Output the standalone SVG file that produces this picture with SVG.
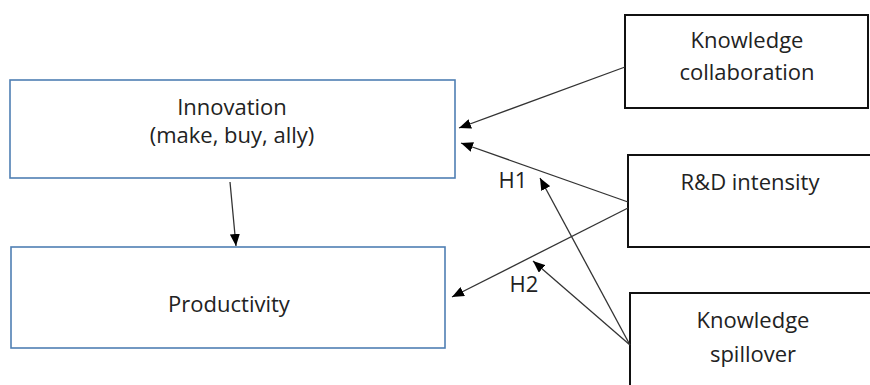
<svg xmlns="http://www.w3.org/2000/svg" width="870" height="385" viewBox="0 0 870 385">
<defs>
<marker id="ah" viewBox="0 0 12 10" refX="12" refY="5" markerWidth="12" markerHeight="10" markerUnits="userSpaceOnUse" orient="auto">
<path d="M0,0 L12,5 L0,10 z" fill="#000"/>
</marker>
<style>
.blue{fill:#fff;stroke:#4f7fb3;stroke-width:1.6}
.blk{fill:#fff;stroke:#111;stroke-width:2}
text{font-family:"Open Sans","Liberation Sans",sans-serif;font-size:22px;fill:#222;text-anchor:middle}
.c{fill:none;stroke:#333;stroke-width:1.3;marker-end:url(#ah)}
</style>
</defs>
<rect width="870" height="385" fill="#fff"/>
<g id="innovation">
<rect class="blue" x="10" y="80" width="445" height="98"/>
<text x="232" y="115">Innovation</text>
<text x="232" y="143">(make, buy, ally)</text>
</g>
<g id="productivity">
<rect class="blue" x="11" y="247" width="434" height="101"/>
<text x="229" y="312">Productivity</text>
</g>
<g id="knowledge-collaboration">
<rect class="blk" x="625" y="15" width="243" height="93"/>
<text x="747" y="48">Knowledge</text>
<text x="747" y="80">collaboration</text>
</g>
<g id="rd-intensity">
<rect class="blk" x="628" y="155" width="245" height="92"/>
<text x="750" y="190">R&amp;D intensity</text>
</g>
<g id="knowledge-spillover">
<rect class="blk" x="630" y="293" width="245" height="100"/>
<text x="753" y="328">Knowledge</text>
<text x="753" y="362">spillover</text>
</g>
<g id="connectors">
<line class="c" x1="230" y1="182" x2="236" y2="246"/>
<line class="c" x1="625" y1="67" x2="459" y2="128"/>
<line class="c" x1="628" y1="202" x2="461" y2="143"/>
<line class="c" x1="628" y1="208" x2="452" y2="297"/>
<line class="c" x1="630" y1="345" x2="540" y2="178"/>
<line class="c" x1="630" y1="345" x2="533" y2="261"/>
<text x="513" y="188">H1</text>
<text x="524" y="292">H2</text>
</g>
</svg>
